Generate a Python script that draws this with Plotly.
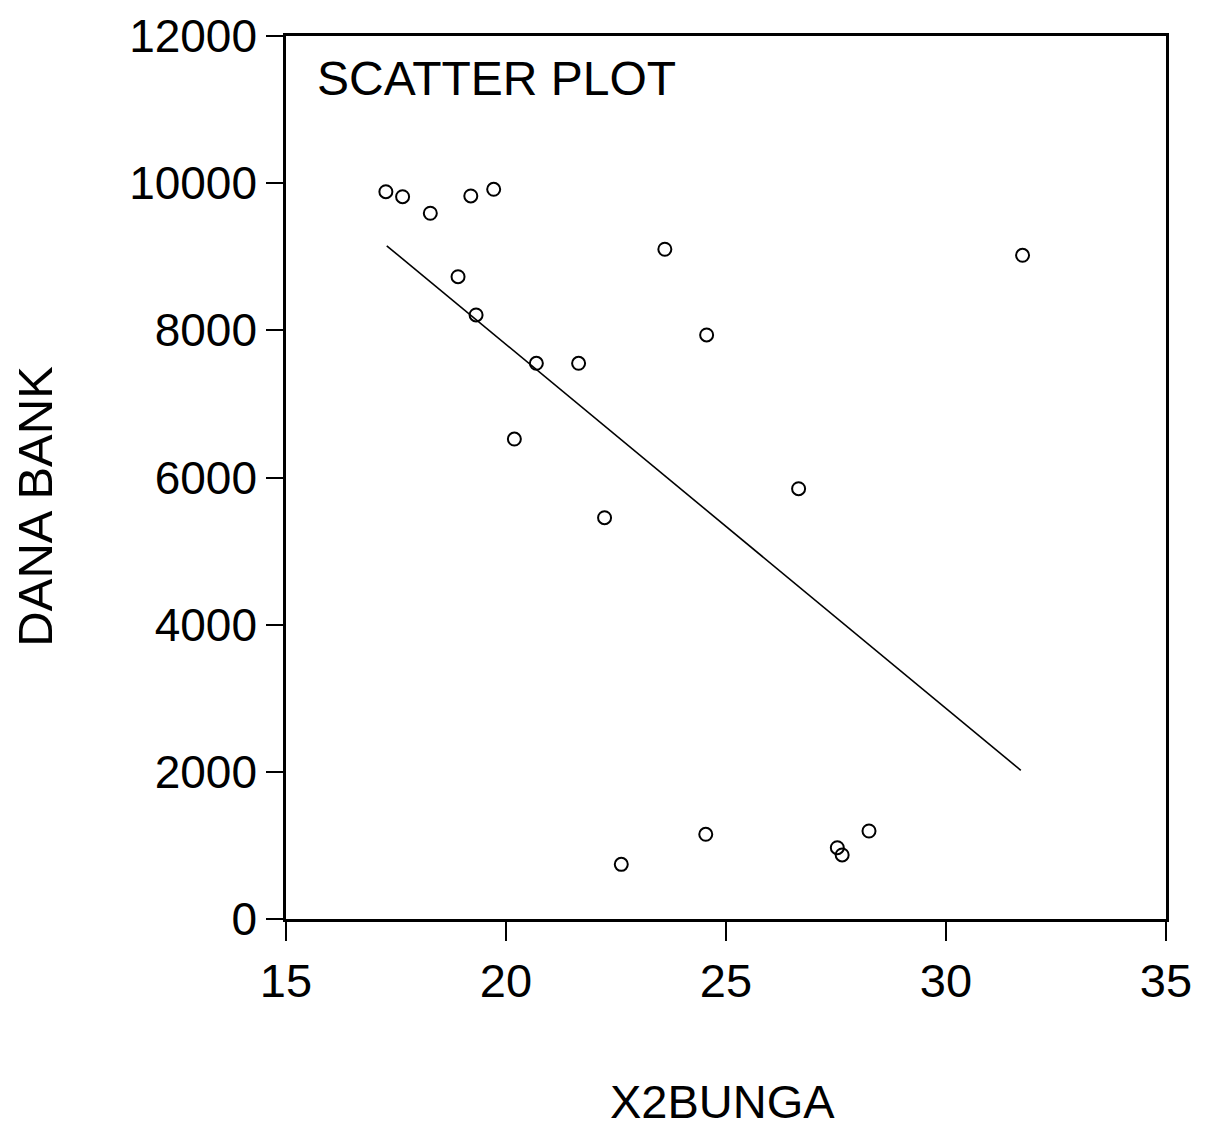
import plotly.graph_objects as go

# Data
x2bunga = [17.27, 17.65, 18.28, 19.20, 19.72, 23.61, 18.91, 19.32, 20.69, 21.65,
           24.56, 20.19, 22.24, 26.65, 31.74, 22.62, 24.54, 27.53, 27.64, 28.25]
dana_bank = [9884, 9816, 9591, 9826, 9917, 9102, 8729, 8209, 7552, 7552,
             7937, 6523, 5454, 5848, 9020, 743, 1151, 969, 870, 1196]

fit_x = [17.29, 31.70]
fit_y = [9149, 2021]

x_ticks = [15, 20, 25, 30, 35]
x_tick_labels = ["15", "20", "25", "30", "35"]
y_ticks = [0, 2000, 4000, 6000, 8000, 10000, 12000]
y_tick_labels = ["0", "2000", "4000", "6000", "8000", "10000", "12000"]

FONT = "Liberation Sans, Arial, sans-serif"

fig = go.Figure()
fig.add_trace(go.Scatter(
    x=fit_x, y=fit_y, mode="lines",
    line=dict(color="black", width=1.6),
    showlegend=False, hoverinfo="skip",
))
fig.add_trace(go.Scatter(
    x=x2bunga, y=dana_bank, mode="markers",
    marker=dict(symbol="circle-open", size=13, color="black",
                line=dict(color="black", width=2)),
    showlegend=False,
))

fig.update_layout(
    width=1206, height=1132,
    margin=dict(l=286, r=40, t=36, b=213, autoexpand=False),
    paper_bgcolor="white", plot_bgcolor="white",
    font=dict(family=FONT, color="black", size=46),
    xaxis=dict(
        range=[15, 35], tickvals=x_ticks, ticktext=x_tick_labels,
        showgrid=False, zeroline=False,
        showline=True, linecolor="black", linewidth=2.5, mirror=True,
        ticks="outside", ticklen=19, tickwidth=2, tickcolor="black",
        tickfont=dict(family=FONT, size=47, color="black"),
    ),
    yaxis=dict(
        range=[0, 12000], tickvals=y_ticks, ticktext=y_tick_labels,
        showgrid=False, zeroline=False,
        showline=True, linecolor="black", linewidth=2.5, mirror=True,
        ticks="outside", ticklen=17, tickwidth=2, tickcolor="black",
        tickfont=dict(family=FONT, size=46, color="black"),
    ),
    annotations=[
        dict(text="SCATTER PLOT", xref="paper", yref="paper",
             x=0.033, y=0.952, xanchor="left", yanchor="middle",
             showarrow=False, font=dict(family=FONT, size=48, color="black")),
        dict(text="X2BUNGA", xref="paper", yref="paper",
             x=0.496, y=(918.5 - 1101) / 883, xanchor="center", yanchor="middle",
             showarrow=False, borderpad=0,
             font=dict(family=FONT, size=47, color="black")),
        dict(text="DANA BANK", xref="paper", yref="paper",
             x=(35 - 286) / 880, y=0.467, xanchor="center", yanchor="middle",
             textangle=-90, borderpad=0,
             showarrow=False, font=dict(family=FONT, size=49, color="black")),
    ],
)

fig.write_html("out.html",
               config={"displayModeBar": False},
               post_script="document.body.style.margin='0';document.body.style.overflow='hidden';")
